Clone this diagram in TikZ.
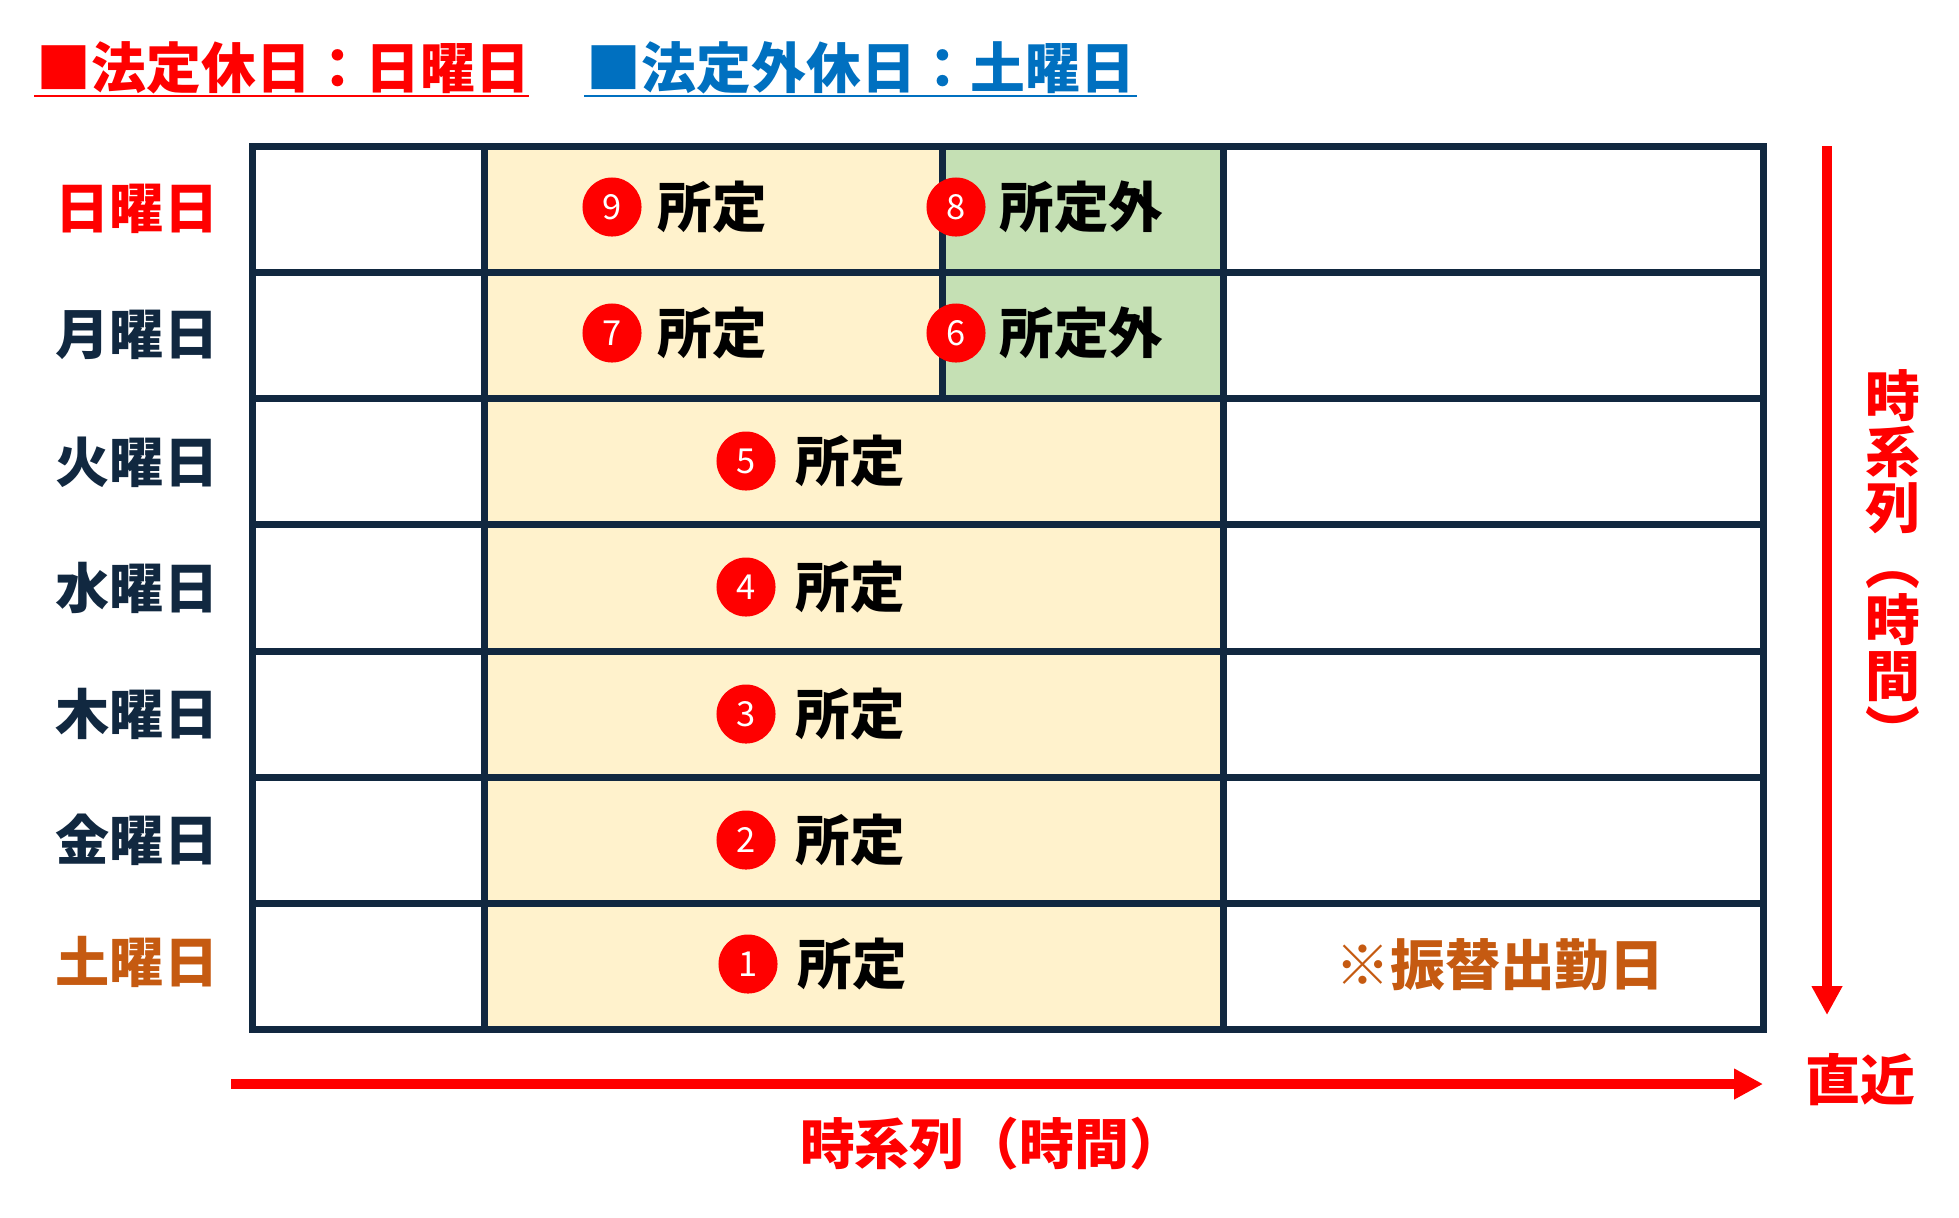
\documentclass[tikz,border=0pt]{standalone}
\usepackage{fontspec}
\setmainfont{Noto Sans CJK JP}
\usetikzlibrary{arrows.meta,positioning}

\definecolor{tabline}{RGB}{17,40,64}
\definecolor{hcream}{RGB}{255,242,204}
\definecolor{hgreen}{RGB}{197,224,180}
\definecolor{hblue}{RGB}{0,112,192}
\definecolor{hbrown}{RGB}{197,90,17}

\tikzset{
  day/.style={font=\bfseries\fontsize{15.4}{15.4}\selectfont, text=tabline, inner sep=0pt},
  head/.style={font=\bfseries\fontsize{15.6}{15.9}\selectfont, inner sep=0pt},
  num/.style={circle, fill=red, text=white, minimum size=0.59cm, inner sep=0pt,
    font=\fontsize{9.8}{10}\selectfont},
  work/.style={font=\bfseries\fontsize{15.5}{16}\selectfont, text=black, inner sep=0pt},
  grid/.style={tabline, line width=2pt},
  redarrow/.style={red, line width=2.85pt, -{Triangle[length=0.29cm,width=0.29cm]}}
}

\begin{document}
\begin{tikzpicture}[y=-1cm]

\def\s{0.01}

\useasboundingbox (0,0) rectangle (1959*\s, 1217*\s);

% headings
\node[head, text=red, anchor=west] (hred) at (36*\s, 68*\s) {■法定休日：日曜日};
\draw[red, line width=0.75pt] (34*\s, 96*\s) -- (529*\s, 96*\s);
\node[head, text=hblue, anchor=west] (hblue) at (586*\s, 68*\s) {■法定外休日：土曜日};
\draw[hblue, line width=0.75pt] (584*\s, 96*\s) -- (1137*\s, 96*\s);

% cell fills
\fill[hcream] (484.5*\s, 146.5*\s) rectangle (1223.5*\s, 1029.2*\s);
\fill[hgreen] (942.5*\s, 146.5*\s) rectangle (1223.5*\s, 398.7*\s);

% table
\draw[grid] (252.5*\s, 146.5*\s) rectangle (1763.5*\s, 1029.2*\s);
\draw[grid] (484.5*\s, 146.5*\s) -- (484.5*\s, 1029.2*\s);
\draw[grid] (942.5*\s, 146.5*\s) -- (942.5*\s, 398.7*\s);
\draw[grid] (1223.5*\s, 146.5*\s) -- (1223.5*\s, 1029.2*\s);
\draw[grid] (252.5*\s, 272.6*\s) -- (1763.5*\s, 272.6*\s);
\draw[grid] (252.5*\s, 398.7*\s) -- (1763.5*\s, 398.7*\s);
\draw[grid] (252.5*\s, 524.9*\s) -- (1763.5*\s, 524.9*\s);
\draw[grid] (252.5*\s, 651.0*\s) -- (1763.5*\s, 651.0*\s);
\draw[grid] (252.5*\s, 777.1*\s) -- (1763.5*\s, 777.1*\s);
\draw[grid] (252.5*\s, 903.1*\s) -- (1763.5*\s, 903.1*\s);

% days
\node[day, text=red] (sun) at (137*\s, 209*\s) {日曜日};
\node[day] (mon) at (137*\s, 335*\s) {月曜日};
\node[day] (tue) at (137*\s, 462*\s) {火曜日};
\node[day] (wed) at (137*\s, 588*\s) {水曜日};
\node[day] (thu) at (137*\s, 714*\s) {木曜日};
\node[day] (fri) at (137*\s, 840*\s) {金曜日};
\node[day, text=hbrown] (sat) at (137*\s, 962*\s) {土曜日};

% work days
\node[num] (c9) at (612*\s, 207*\s) {9};
\node[work, right=0.15cm of c9] (w9) {所定};
\node[num] (c8) at (956*\s, 207*\s) {8};
\node[work, right=0.13cm of c8] (w8) {所定外};
\node[num] (c7) at (612*\s, 333*\s) {7};
\node[work, right=0.15cm of c7] (w7) {所定};
\node[num] (c6) at (956*\s, 333*\s) {6};
\node[work, right=0.13cm of c6] (w6) {所定外};
\node[num] (c5) at (746*\s, 461*\s) {5};
\node[work, right=0.19cm of c5] (w5) {所定};
\node[num] (c4) at (746*\s, 587*\s) {4};
\node[work, right=0.19cm of c4] (w4) {所定};
\node[num] (c3) at (746*\s, 714*\s) {3};
\node[work, right=0.19cm of c3] (w3) {所定};
\node[num] (c2) at (746*\s, 840*\s) {2};
\node[work, right=0.19cm of c2] (w2) {所定};
\node[num] (c1) at (748*\s, 964*\s) {1};
\node[work, right=0.19cm of c1] (w1) {所定};
\node[day, text=hbrown, font=\bfseries\fontsize{15.6}{16}\selectfont] (furikae)
  at (1500*\s, 965*\s) {※振替出勤日};

% time axes
\coordinate (hs) at (231*\s, 1084*\s);
\coordinate (he) at (1763*\s, 1084*\s);
\draw[redarrow] (hs) -- (he);
\coordinate (vs) at (1827*\s, 146*\s);
\coordinate (ve) at (1827*\s, 1015*\s);
\draw[redarrow] (vs) -- (ve);

\node[head, text=red] (recent) at (1860*\s, 1080*\s) {直近};
\node[head, text=red] (htime) at (992*\s, 1144*\s) {時系列（時間）};
\node[head, text=red, align=center] (vtime) at (1893*\s, 561*\s)
  {時\\系\\列\\︵\\時\\間\\︶};

\end{tikzpicture}
\end{document}
